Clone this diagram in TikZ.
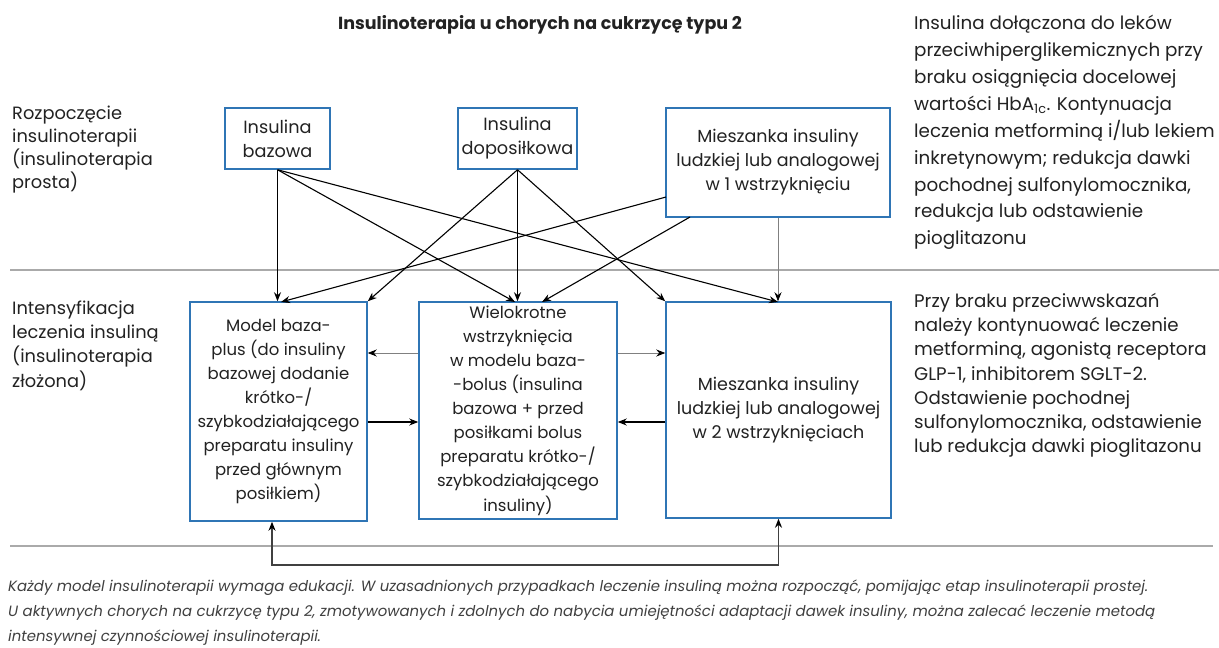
\documentclass[tikz,border=0pt]{standalone}
\usepackage{fontspec}
\setmainfont{Poppins}
\usetikzlibrary{arrows.meta}
\definecolor{boxblue}{RGB}{47,117,181}
\definecolor{txt}{RGB}{34,34,34}
\definecolor{sepgray}{RGB}{170,170,170}
\newcommand\fsz[2]{\fontsize{#1}{#2}\selectfont}
\tikzset{
  box/.style={draw=boxblue, line width=1.5pt, fill=white, align=center, inner sep=0pt, text=txt, font=\fsz{16.5}{24}},
  lbl/.style={anchor=west, align=left, inner sep=0pt, text=txt},
  arr/.style={draw=black, line width=1.1pt, -{Stealth[length=9pt,width=7pt]}},
  tarr/.style={draw=gray, line width=0.7pt, -{Stealth[length=9pt,width=7pt,color=black]}},
  sep/.style={draw=sepgray, line width=1.6pt},
  botarr/.style={draw=black!75, line width=1.6pt, {Stealth[length=9pt,width=7pt,color=black]}-{Stealth[length=9pt,width=7pt,color=black]}}
}
\begin{document}
\begin{tikzpicture}[x=1pt,y=-1pt]
\useasboundingbox[fill=white] (0,0) rectangle (1219,648);

% title
\node[inner sep=0pt, text=txt, font=\fsz{17.5}{22}\bfseries] (title) at (540,25) {Insulinoterapia u chorych na cukrzycę typu 2};

% separators
\coordinate (s1l) at (10,270); \coordinate (s1r) at (1219,270);
\coordinate (s2l) at (10,546); \coordinate (s2r) at (1213,546);
\draw[sep] (s1l) -- (s1r);
\draw[sep, line width=1.1pt] (s2l) -- (s2r);

% left labels
\node[lbl, font=\fsz{17.8}{23}] (l1) at (12,149.5) {Rozpoczęcie\\insulinoterapii\\(insulinoterapia\\prosta)};
\node[lbl, font=\fsz{17.8}{24.3}] (l2) at (12,345.5) {Intensyfikacja\\leczenia insuliną\\(insulinoterapia\\złożona)};

% right texts
\node[lbl, font=\fsz{18.3}{26.9}] (r1) at (914,132.5) {Insulina dołączona do leków\\przeciwhiperglikemicznych przy\\braku osiągnięcia docelowej\\wartości HbA\textsubscript{1c}. Kontynuacja\\leczenia metforminą i/lub lekiem\\inkretynowym; redukcja dawki\\pochodnej sulfonylomocznika,\\redukcja lub odstawienie\\pioglitazonu};
\node[lbl, font=\fsz{18.2}{24.2}] (r2) at (914,375.5) {Przy braku przeciwwskazań\\należy kontynuować leczenie\\metforminą, agonistą receptora\\GLP-1, inhibitorem SGLT-2.\\Odstawienie pochodnej\\sulfonylomocznika, odstawienie\\lub redukcja dawki pioglitazonu};

% top boxes
\node[box, font=\fsz{17.7}{24}, minimum width=105pt, minimum height=61pt] (A) at (277.5,138.5) {Insulina\\bazowa};
\node[box, font=\fsz{17.7}{24}, minimum width=119pt, minimum height=61pt] (B) at (517.5,138.5) {Insulina\\doposiłkowa};
\node[box, font=\fsz{17.5}{24}, minimum width=224pt, minimum height=109pt] (C) at (778,162.5) {Mieszanka insuliny\\ludzkiej lub analogowej\\w 1 wstrzyknięciu};

% bottom boxes
\node[box, minimum width=177pt, minimum height=219pt] (D) at (278.5,411.5) {Model baza-\\plus (do insuliny\\bazowej dodanie\\krótko-/\\szybkodziałającego\\preparatu insuliny\\przed głównym\\posiłkiem)};
\node[box, minimum width=198pt, minimum height=217pt, font=\fsz{16.5}{24.1}] (E) at (518,410.5) {Wielokrotne\\wstrzyknięcia\\w modelu baza-\\-bolus (insulina\\bazowa + przed\\posiłkami bolus\\preparatu krótko-/\\szybkodziałającego\\insuliny)};
\node[box, font=\fsz{17.5}{24}, minimum width=225pt, minimum height=216pt] (F) at (778.5,410) {Mieszanka insuliny\\ludzkiej lub analogowej\\w 2 wstrzyknięciach};

% target coordinates
\coordinate (Dc) at (281,302);
\coordinate (Ea) at (515,302);
\coordinate (Ec) at (542,302);
\coordinate (Fa) at (778,302);
\coordinate (Cw) at (666,197);
\coordinate (Cb) at (690,217);

% from A
\draw[arr] (A.south) -- (A.south |- D.north);
\draw[arr] (A.south) -- (Ea);
\draw[arr] (A.south) -- (Fa);
% from B
\draw[arr] (B.south) -- (D.north east);
\draw[arr] (B.south) -- (B.south |- E.north);
\draw[arr] (B.south) -- (F.north west);
% from C
\draw[arr] (Cw) -- (Dc);
\draw[arr] (Cb) -- (Ec);
\draw[tarr] (C.south) -- (C.south |- F.north);

% horizontal
\draw[tarr] (E.west |- 0,353) -- (D.east |- 0,353);
\draw[arr] (D.east |- 0,422) -- (E.west |- 0,422);
\draw[tarr] (E.east |- 0,353) -- (F.west |- 0,353);
\draw[arr] (F.west |- 0,422) -- (E.east |- 0,422);

% bottom loop
\coordinate (bl) at (272,565);
\coordinate (br) at (778.5,565);
\draw[botarr] (D.south -| bl) -- (bl) -- (br) -- (F.south);

% footnote
\node[lbl, font=\fsz{14.9}{25}\itshape, text=black!75] (fn) at (8,613) {Każdy model insulinoterapii wymaga edukacji. W uzasadnionych przypadkach leczenie insuliną można rozpocząć, pomijając etap insulinoterapii prostej.\\U aktywnych chorych na cukrzycę typu 2, zmotywowanych i zdolnych do nabycia umiejętności adaptacji dawek insuliny, można zalecać leczenie metodą\\intensywnej czynnościowej insulinoterapii.};
\end{tikzpicture}
\end{document}
